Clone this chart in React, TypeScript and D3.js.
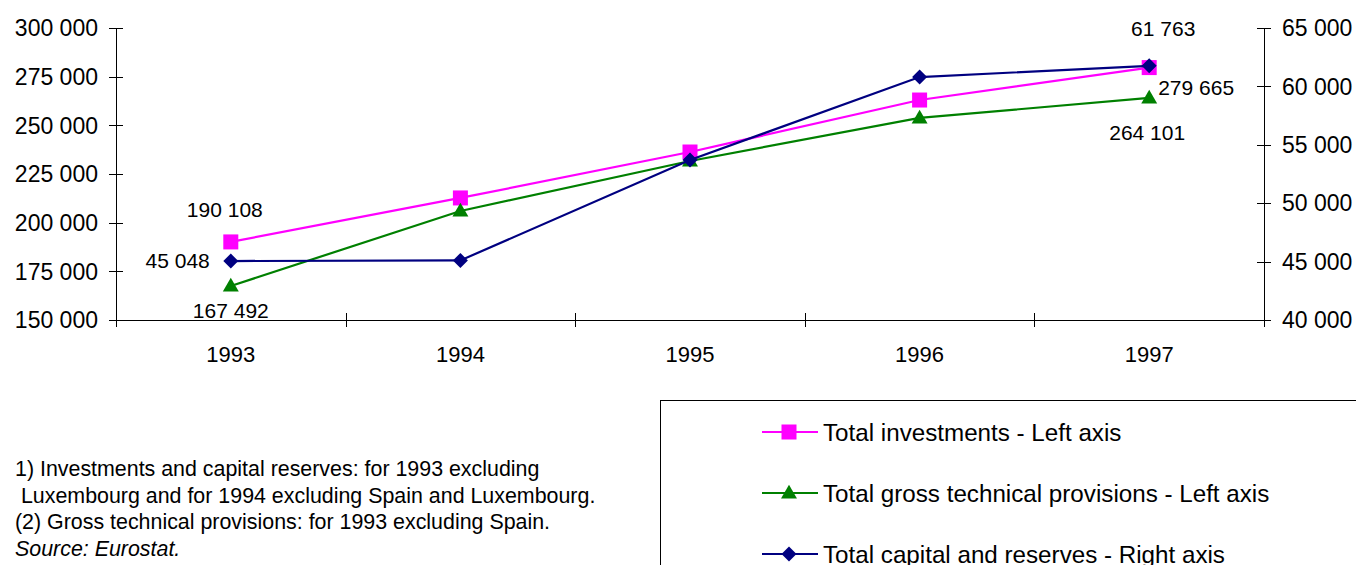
import React from "react";
import * as d3 from "d3";

const years = ["1993", "1994", "1995", "1996", "1997"];
const investments = [190108, 212700, 236300, 263000, 279665];
const grossProvisions = [167492, 206000, 231700, 253800, 264101];
const capitalReserves = [45048, 45100, 53700, 60800, 61763];
const leftTicks = [150000, 175000, 200000, 225000, 250000, 275000, 300000];
const rightTicks = [40000, 45000, 50000, 55000, 60000, 65000];
const legendLabels = [
  "Total investments - Left axis",
  "Total gross technical provisions - Left axis",
  "Total capital and reserves - Right axis",
];
const footnotes = [
  "1) Investments and capital reserves: for 1993 excluding",
  " Luxembourg and for 1994 excluding Spain and Luxembourg.",
  "(2) Gross technical provisions: for 1993 excluding Spain.",
];
const sourceNote = "Source: Eurostat.";

const fmt = (v: number) => d3.format(",")(v).replace(/,/g, " ");

const FONT = "'Liberation Sans', Arial, sans-serif";
const W = 1356;
const H = 565;
const L = 116;
const R = 1264;
const T = 28;
const B = 320;

const COL_INV = "#FF00FF";
const COL_GROSS = "#008000";
const COL_CAP = "#000080";

function Marker({ kind, x, y, color }: { kind: string; x: number; y: number; color: string }) {
  if (kind === "square") {
    const s = 15;
    return <rect x={x - s / 2} y={y - s / 2} width={s} height={s} fill={color} />;
  }
  if (kind === "triangle") {
    const sym = d3.symbol().type(d3.symbolTriangle).size(110)();
    return <path d={sym || ""} transform={`translate(${x},${y + 1})`} fill={color} />;
  }
  const r = 7.5;
  return (
    <path
      d={`M${x},${y - r}L${x + r},${y}L${x},${y + r}L${x - r},${y}Z`}
      fill={color}
    />
  );
}

export default function App() {
  const x = d3.scaleBand<string>().domain(years).range([L, R]);
  const cx = (yr: string) => (x(yr) as number) + x.bandwidth() / 2;
  const yL = d3.scaleLinear().domain([150000, 300000]).range([B, T]);
  const yR = d3.scaleLinear().domain([40000, 65000]).range([B, T]);

  const line = d3
    .line<[number, number]>()
    .x((d) => d[0])
    .y((d) => d[1]);

  const series = [
    { values: investments, scale: yL, color: COL_INV, kind: "square" },
    { values: grossProvisions, scale: yL, color: COL_GROSS, kind: "triangle" },
    { values: capitalReserves, scale: yR, color: COL_CAP, kind: "diamond" },
  ];

  const xTicks = [...years.map((yr) => x(yr) as number), R];

  // data labels: [seriesIndex, pointIndex, dx, dy, anchor]
  const labels: [number, number, number, number, string][] = [
    [0, 0, -6, -25, "middle"],
    [1, 0, 0, 32, "middle"],
    [2, 0, -21, 7, "end"],
    [2, 4, 14, -30, "middle"],
    [0, 4, 9, 27, "start"],
    [1, 4, -2, 42, "middle"],
  ];

  return (
    <svg
      width={W}
      height={H}
      style={{ position: "absolute", left: 0, top: 0, background: "#fff" }}
      fontFamily={FONT}
    >
      <rect x={0} y={0} width={W} height={H} fill="#fff" />
      {/* axes */}
      <g stroke="#000" strokeWidth={1} shapeRendering="crispEdges">
        <line x1={L} y1={T} x2={L} y2={B} />
        <line x1={R} y1={T} x2={R} y2={B} />
        <line x1={L} y1={B} x2={R} y2={B} />
        {leftTicks.map((t) => (
          <line key={"lt" + t} x1={L - 7} x2={L + 7} y1={Math.round(yL(t))} y2={Math.round(yL(t))} />
        ))}
        {rightTicks.map((t) => (
          <line key={"rt" + t} x1={R - 7} x2={R + 7} y1={Math.round(yR(t))} y2={Math.round(yR(t))} />
        ))}
        {xTicks.map((t, i) => (
          <line key={"xt" + i} x1={Math.round(t)} x2={Math.round(t)} y1={B - 7} y2={B + 7} />
        ))}
      </g>
      <g fontSize={23} fill="#000">
        {leftTicks.map((t) => (
          <text key={"ltl" + t} x={98} y={yL(t)} dy="0.36em" textAnchor="end">
            {fmt(t)}
          </text>
        ))}
        {rightTicks.map((t) => (
          <text key={"rtl" + t} x={1282} y={yR(t)} dy="0.36em" textAnchor="start">
            {fmt(t)}
          </text>
        ))}
      </g>
      <g fontSize={22} fill="#000">
        {years.map((yr) => (
          <text key={"xl" + yr} x={cx(yr)} y={362} textAnchor="middle">
            {yr}
          </text>
        ))}
      </g>
      {/* series */}
      {series.map((s, si) => (
        <g key={"s" + si}>
          <path
            d={line(years.map((yr, i) => [cx(yr), s.scale(s.values[i])] as [number, number])) || ""}
            fill="none"
            stroke={s.color}
            strokeWidth={2.2}
          />
          {years.map((yr, i) => (
            <Marker key={i} kind={s.kind} x={cx(yr)} y={s.scale(s.values[i])} color={s.color} />
          ))}
        </g>
      ))}
      {/* data labels */}
      <g fontSize={21} fill="#000">
        {labels.map(([si, pi, dx, dy, anchor], k) => {
          const s = series[si];
          return (
            <text
              key={"dl" + k}
              x={cx(years[pi]) + dx}
              y={s.scale(s.values[pi]) + dy}
              textAnchor={anchor as any}
            >
              {fmt(s.values[pi])}
            </text>
          );
        })}
      </g>
      {/* legend */}
      <rect x={660.5} y={400.5} width={720} height={200} fill="none" stroke="#000" strokeWidth={1} />
      {series.map((s, i) => {
        const ly = 432 + i * 61;
        return (
          <g key={"lg" + i}>
            <line x1={762} x2={818} y1={ly} y2={ly} stroke={s.color} strokeWidth={2.2} />
            <Marker kind={s.kind} x={789} y={ly} color={s.color} />
            <text x={823} y={ly} dy="0.36em" fontSize={24.2} fill="#000">
              {legendLabels[i]}
            </text>
          </g>
        );
      })}
      {/* footnotes */}
      <g fontSize={21.4} fill="#000">
        {footnotes.map((f, i) => (
          <text key={"fn" + i} x={15} y={476 + i * 26.5} style={{ whiteSpace: "pre" }}>
            {f}
          </text>
        ))}
        <text x={15} y={476 + 3 * 26.5} fontStyle="italic">
          {sourceNote}
        </text>
      </g>
    </svg>
  );
}
